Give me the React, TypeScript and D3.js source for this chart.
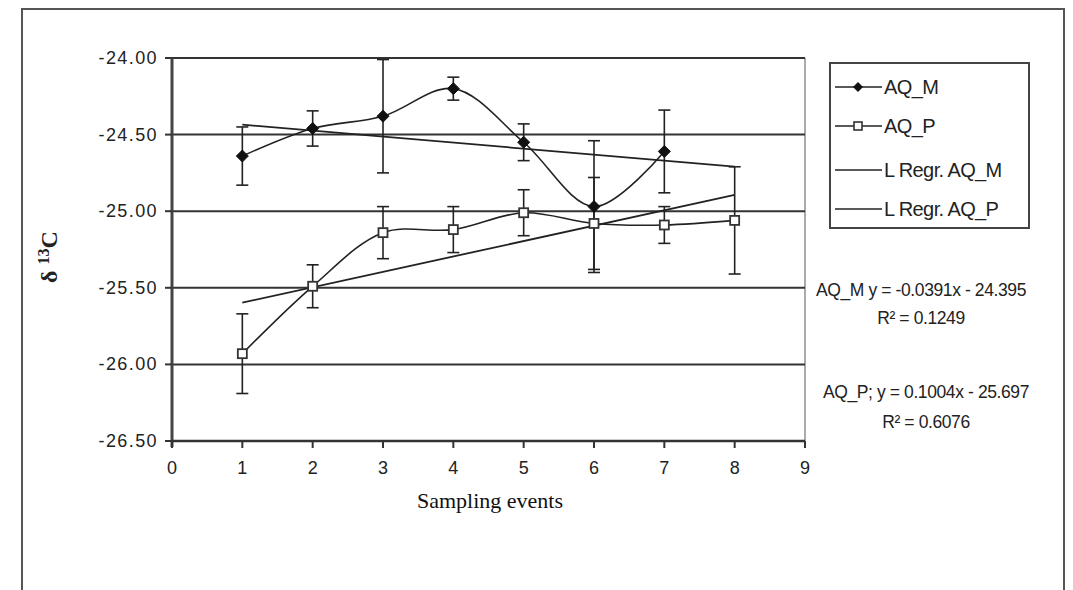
import React from "react";
import * as d3 from "d3";

const events = [1, 2, 3, 4, 5, 6, 7, 8];
const aqM = [-24.64, -24.46, -24.38, -24.2, -24.55, -24.97, -24.61];
const aqMErr = [0.19, 0.115, 0.37, 0.075, 0.12, 0.43, 0.27];
const aqP = [-25.93, -25.49, -25.14, -25.12, -25.01, -25.08, -25.09, -25.06];
const aqPErr = [0.26, 0.14, 0.17, 0.15, 0.15, 0.3, 0.12, 0.35];
const regM = { slope: -0.0391, intercept: -24.396 };
const regP = { slope: 0.1004, intercept: -25.697 };
const yTicks = [-24, -24.5, -25, -25.5, -26, -26.5];
const xTicks = [0, 1, 2, 3, 4, 5, 6, 7, 8, 9];
const legendLabels = ["AQ_M", "AQ_P", "L Regr. AQ_M", "L Regr. AQ_P"];
const annotM = ["AQ_M y = -0.0391x - 24.395", "R² = 0.1249"];
const annotP = ["AQ_P; y = 0.1004x - 25.697", "R² = 0.6076"];

const W = 1073;
const H = 590;
const plot = { left: 172, right: 805, top: 58, bottom: 441 };
const SANS = "'Liberation Sans', Arial, sans-serif";
const SERIF = "'Liberation Serif', 'Times New Roman', serif";
const INK = "#222";

export default function App() {
  const x = d3.scaleLinear().domain([0, 9]).range([plot.left, plot.right]);
  const y = d3.scaleLinear().domain([-26.5, -24]).range([plot.bottom, plot.top]);

  const smooth = d3
    .line<number>()
    .x((_, i) => x(events[i]))
    .y((d) => y(d))
    .curve(d3.curveCatmullRom.alpha(0.5));

  const regLine = (r: { slope: number; intercept: number }) =>
    d3.line<number>()
      .x((d) => x(d))
      .y((d) => y(r.slope * d + r.intercept))([events[0], events[events.length - 1]]) as string;

  const diamond = (cx: number, cy: number, s: number) =>
    `M${cx},${cy - s}L${cx + s},${cy}L${cx},${cy + s}L${cx - s},${cy}Z`;

  const errBar = (xv: number, v: number, e: number, key: string) => {
    const px = x(xv);
    const t = y(v + e);
    const b = y(v - e);
    return (
      <g key={key} stroke={INK} strokeWidth={1.6}>
        <line x1={px} x2={px} y1={t} y2={b} />
        <line x1={px - 6} x2={px + 6} y1={t} y2={t} />
        <line x1={px - 6} x2={px + 6} y1={b} y2={b} />
      </g>
    );
  };

  const legendY = [87, 126, 170, 209];

  return (
    <svg
      width={W}
      height={H}
      style={{ position: "absolute", left: 0, top: 0, background: "#fff" }}
    >
      {/* outer frame */}
      <path d={`M22,${H}V9H1064V${H}`} fill="none" stroke="#555" strokeWidth={2} />

      {/* right border of plot */}
      <line x1={plot.right} x2={plot.right} y1={plot.top} y2={plot.bottom} stroke="#aaa" strokeWidth={2} />

      {/* gridlines */}
      {yTicks.map((t) => (
        <line
          key={"g" + t}
          x1={plot.left}
          x2={plot.right}
          y1={y(t)}
          y2={y(t)}
          stroke="#333"
          strokeWidth={2}
        />
      ))}

      {/* axes */}
      <line x1={plot.left} x2={plot.left} y1={plot.top} y2={plot.bottom + 6} stroke="#444" strokeWidth={3} />
      <line x1={plot.left} x2={plot.right} y1={plot.bottom} y2={plot.bottom} stroke="#333" strokeWidth={2.5} />

      {/* y ticks and labels */}
      {yTicks.map((t) => (
        <g key={"yt" + t}>
          <line x1={plot.left - 7} x2={plot.left} y1={y(t)} y2={y(t)} stroke="#333" strokeWidth={2} />
          <text
            x={158}
            y={y(t) + 6}
            textAnchor="end"
            fontFamily={SANS}
            fontSize={18}
            letterSpacing={1.4}
            fill="#222"
          >
            {t.toFixed(2)}
          </text>
        </g>
      ))}

      {/* x ticks and labels */}
      {xTicks.map((t) => (
        <g key={"xt" + t}>
          <line x1={x(t)} x2={x(t)} y1={plot.bottom} y2={plot.bottom + 7} stroke="#333" strokeWidth={2} />
          <text x={x(t)} y={474} textAnchor="middle" fontFamily={SANS} fontSize={18} fill="#222">
            {t}
          </text>
        </g>
      ))}

      {/* regression lines */}
      <path d={regLine(regM)} fill="none" stroke={INK} strokeWidth={1.8} />
      <path d={regLine(regP)} fill="none" stroke={INK} strokeWidth={1.8} />

      {/* error bars */}
      {aqM.map((v, i) => errBar(events[i], v, aqMErr[i], "em" + i))}
      {aqP.map((v, i) => errBar(events[i], v, aqPErr[i], "ep" + i))}

      {/* series lines */}
      <path d={smooth(aqM) as string} fill="none" stroke={INK} strokeWidth={1.6} />
      <path d={smooth(aqP) as string} fill="none" stroke={INK} strokeWidth={1.6} />

      {/* markers */}
      {aqM.map((v, i) => (
        <path key={"mm" + i} d={diamond(x(events[i]), y(v), 6)} fill="#111" stroke="#111" />
      ))}
      {aqP.map((v, i) => (
        <rect
          key={"mp" + i}
          x={x(events[i]) - 4.5}
          y={y(v) - 4.5}
          width={9}
          height={9}
          fill="#fff"
          stroke="#333"
          strokeWidth={1.8}
        />
      ))}

      {/* legend */}
      <rect x={830} y={63} width={199} height={165} fill="#fff" stroke="#444" strokeWidth={2} />
      {legendLabels.map((lab, i) => (
        <g key={"lg" + i}>
          <line x1={835} x2={882} y1={legendY[i]} y2={legendY[i]} stroke={INK} strokeWidth={1.6} />
          {i === 0 && <path d={diamond(858, legendY[i], 5)} fill="#111" />}
          {i === 1 && (
            <rect x={854} y={legendY[i] - 4} width={8} height={8} fill="#fff" stroke="#333" strokeWidth={1.6} />
          )}
          <text x={884} y={legendY[i] + 7} fontFamily={SANS} fontSize={20} fill="#222" letterSpacing={-0.6}>
            {lab}
          </text>
        </g>
      ))}

      {/* annotations */}
      {annotM.map((s, i) => (
        <text
          key={"am" + i}
          x={921}
          y={296 + i * 28}
          textAnchor="middle"
          fontFamily={SANS}
          fontSize={17.5}
          letterSpacing={-0.4}
          fill="#222"
        >
          {s}
        </text>
      ))}
      {annotP.map((s, i) => (
        <text
          key={"ap" + i}
          x={926}
          y={398 + i * 30}
          textAnchor="middle"
          fontFamily={SANS}
          fontSize={17.5}
          letterSpacing={-0.4}
          fill="#222"
        >
          {s}
        </text>
      ))}

      {/* axis titles */}
      <text
        transform="translate(57,257) rotate(-90)"
        textAnchor="middle"
        fontFamily={SERIF}
        fontWeight="bold"
        fontSize={24}
        fill="#222"
      >
        δ <tspan fontSize={16} dy={-8}>13</tspan>
        <tspan dy={8}>C</tspan>
      </text>
      <text x={490} y={508} textAnchor="middle" fontFamily={SERIF} fontSize={22} fill="#111">
        Sampling events
      </text>
    </svg>
  );
}
